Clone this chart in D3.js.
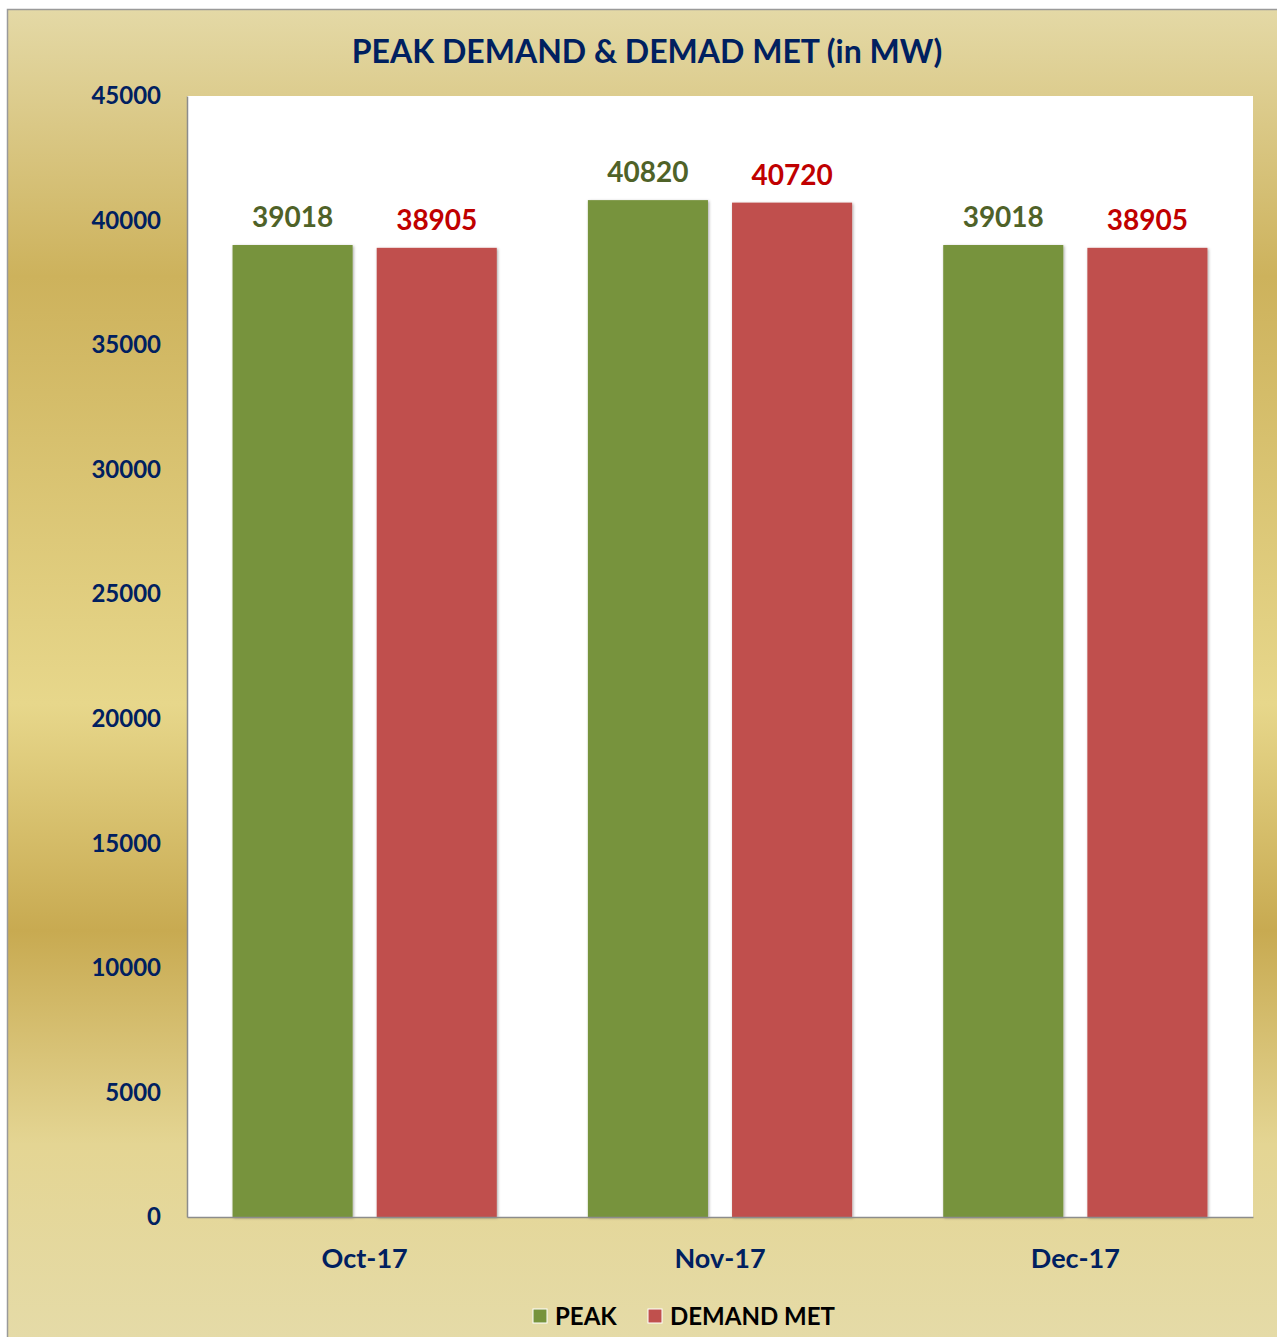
<!DOCTYPE html>
<html><head><meta charset="utf-8">
<script src="https://cdn.jsdelivr.net/npm/d3@7/dist/d3.min.js"></script>
<style>html,body{margin:0;padding:0;background:#fff;}svg{display:block;}</style>
</head><body>
<svg id="c" width="1277" height="1337"></svg>
<script>
const categories = ["Oct-17", "Nov-17", "Dec-17"];
const seriesNames = ["PEAK", "DEMAND MET"];
const peakValues = [39018, 40820, 39018];
const demandMetValues = [38905, 40720, 38905];
const yTicks = [0, 5000, 10000, 15000, 20000, 25000, 30000, 35000, 40000, 45000];
const titleText = "PEAK DEMAND & DEMAD MET (in MW)";

const colors = ["#77933c", "#c0504d"];
const labelColors = ["#4f6228", "#c00000"];
const navy = "#002060";
const font = "Lato, 'Open Sans', sans-serif";

const svg = d3.select("#c");
const defs = svg.append("defs");
const grad = defs.append("linearGradient").attr("id", "bg").attr("x1", 0).attr("y1", 0).attr("x2", 0).attr("y2", 1);
[[0, "#e4d9a6"], [0.2, "#cdb25c"], [0.52, "#e7d78b"], [0.69, "#c8aa51"], [0.85, "#e4d593"], [1, "#e5dba8"]]
  .forEach(([o, c]) => grad.append("stop").attr("offset", o).attr("stop-color", c));
const shadow = defs.append("filter").attr("id", "sh").attr("x", "-10%").attr("y", "-10%").attr("width", "130%").attr("height", "130%");
shadow.append("feDropShadow").attr("dx", 1).attr("dy", 1).attr("stdDeviation", 1.5).attr("flood-color", "#000").attr("flood-opacity", 0.35);

svg.append("rect").attr("x", 7.5).attr("y", 9.5).attr("width", 1275).attr("height", 1335)
  .attr("fill", "url(#bg)").attr("stroke", "#9a9a9a").attr("stroke-width", 1.5);

const m = {left: 187, right: 1253, top: 96, bottom: 1217};
svg.append("rect").attr("x", m.left).attr("y", m.top).attr("width", m.right - m.left).attr("height", m.bottom - m.top).attr("fill", "#fff");

const x0 = d3.scaleBand().domain(categories).range([m.left, m.right]).paddingInner(0).paddingOuter(0);
const x1 = d3.scaleBand().domain(seriesNames).range([0, x0.bandwidth()]).paddingInner(0.167).paddingOuter(0.316);
const y = d3.scaleLinear().domain([0, 45000]).range([m.bottom, m.top]);

svg.append("text").attr("x", 647).attr("y", 63).attr("text-anchor", "middle")
  .attr("font-family", font).attr("font-weight", "bold").attr("font-size", 32).attr("fill", navy).text(titleText);

// y axis
const yAxis = svg.append("g").attr("transform", `translate(${m.left},0)`)
  .call(d3.axisLeft(y).tickValues(yTicks).tickSize(0).tickPadding(26).tickFormat(d3.format("d")));
yAxis.select(".domain").attr("stroke", "#8c8c8c").attr("stroke-width", 1.5);
yAxis.selectAll("text").attr("font-family", font).attr("font-weight", "bold").attr("font-size", 24).attr("fill", navy);

const rows = categories.map((c, i) => ({cat: c, vals: [peakValues[i], demandMetValues[i]]}));
const g = svg.append("g");
rows.forEach(r => {
  r.vals.forEach((v, j) => {
    const bx = x0(r.cat) + x1(seriesNames[j]);
    g.append("rect").attr("x", bx).attr("y", y(v)).attr("width", x1.bandwidth()).attr("height", y(0) - y(v))
      .attr("fill", colors[j]).attr("filter", "url(#sh)");
    g.append("text").attr("x", bx + x1.bandwidth() / 2).attr("y", y(v) - 18).attr("text-anchor", "middle")
      .attr("font-family", font).attr("font-weight", "bold").attr("font-size", 28).attr("fill", labelColors[j]).text(v);
  });
});

// x axis
const xAxis = svg.append("g").attr("transform", `translate(0,${m.bottom})`)
  .call(d3.axisBottom(x0).tickSize(0).tickPadding(32));
xAxis.select(".domain").attr("stroke", "#8c8c8c").attr("stroke-width", 1.5);
xAxis.selectAll("text").attr("font-family", font).attr("font-weight", "bold").attr("font-size", 27).attr("fill", navy);

// legend
const legX = [533, 648];
seriesNames.forEach((n, j) => {
  svg.append("rect").attr("x", legX[j]).attr("y", 1309).attr("width", 14).attr("height", 14)
    .attr("fill", colors[j]).attr("stroke", "#fff").attr("stroke-width", 1);
  svg.append("text").attr("x", legX[j] + 22).attr("y", 1325).attr("font-family", font).attr("font-weight", "bold")
    .attr("font-size", 24).attr("fill", "#000").text(n);
});
</script>
</body></html>
